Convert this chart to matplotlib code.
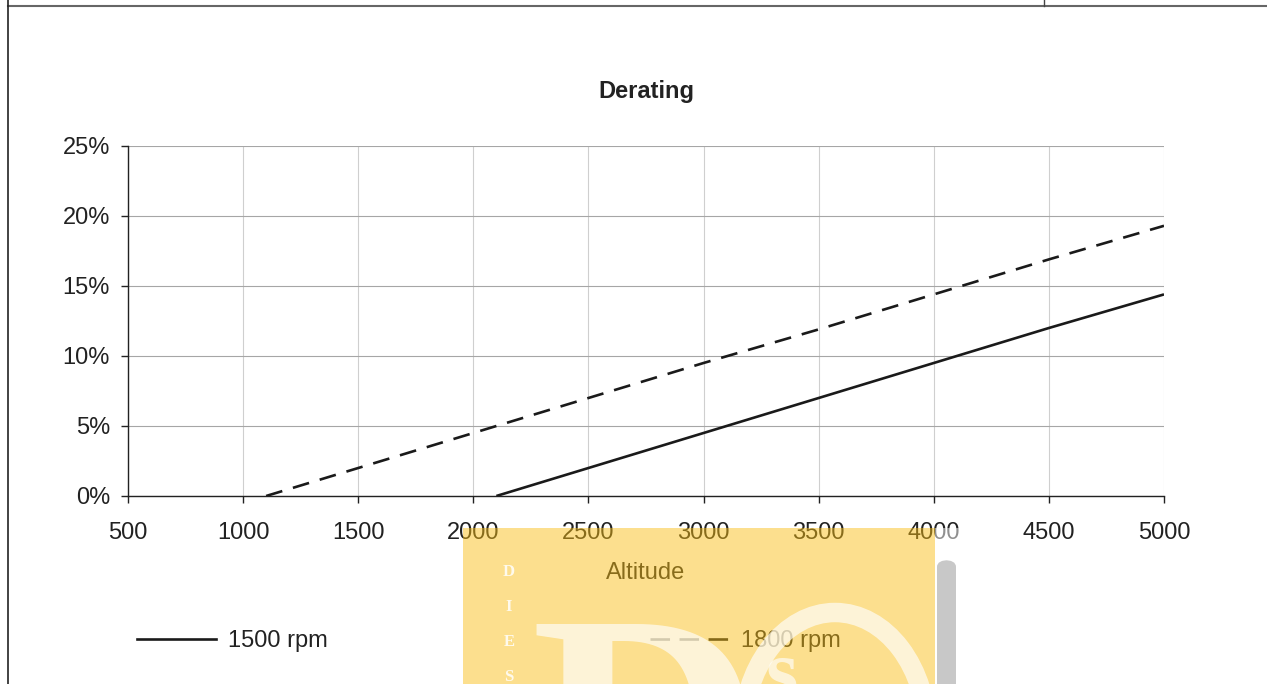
import matplotlib.pyplot as plt
from matplotlib.lines import Line2D
from matplotlib.patches import Rectangle, FancyBboxPatch, Ellipse
from matplotlib.ticker import PercentFormatter

plt.rcParams['font.family'] = ['Liberation Sans', 'DejaVu Sans']

# data
alt_1500 = [2100, 2500, 3000, 3500, 4000, 4500, 5000]
derate_1500 = [0, 2.0, 4.5, 7.0, 9.5, 12.0, 14.4]
alt_1800 = [1100, 1500, 2000, 2500, 3000, 3500, 4000, 4500, 5000]
derate_1800 = [0, 2.0, 4.5, 7.0, 9.5, 11.9, 14.4, 16.9, 19.3]
x_ticks = [500, 1000, 1500, 2000, 2500, 3000, 3500, 4000, 4500, 5000]
y_ticks = [0, 5, 10, 15, 20, 25]

W, H = 1267, 684
FS = 17
fig = plt.figure(figsize=(W / 100, H / 100), dpi=100)


def fx(x):
    return x / W


def fy(y):
    return 1 - y / H


ax = fig.add_axes([fx(128), fy(496), fx(1164) - fx(128), fy(146) - fy(496)])

l1, = ax.plot(alt_1500, derate_1500, color='#1a1a1a', lw=1.9, solid_capstyle='butt')
l2, = ax.plot(alt_1800, derate_1800, color='#1a1a1a', lw=1.9, dashes=(6.4, 4.2))

ax.set_xlim(500, 5000)
ax.set_ylim(0, 25)
ax.set_xticks(x_ticks)
ax.set_yticks(y_ticks)
ax.yaxis.set_major_formatter(PercentFormatter(decimals=0))
ax.grid(axis='y', color='#a6a6a6', lw=0.8)
ax.grid(axis='x', color='#cfcfcf', lw=0.8)
ax.set_axisbelow(True)
for s in ['top', 'right']:
    ax.spines[s].set_visible(False)
for s in ['left', 'bottom']:
    ax.spines[s].set_color('#222222')
    ax.spines[s].set_linewidth(1.0)
ax.tick_params(axis='both', direction='out', length=5, width=1.0, color='#222222',
               labelsize=FS, labelcolor='#222222')
ax.tick_params(axis='x', pad=13.5)
ax.tick_params(axis='y', pad=8)

ax.set_title('Derating', fontsize=FS, fontweight='bold', color='#222222', pad=34.5)
ax.set_xlabel('Altitude', fontsize=FS, color='#222222', labelpad=13.5)

# legend proxies (legend dash pattern is a bit longer than on the plot)
h1 = Line2D([], [], color='#1a1a1a', lw=1.9)
h2 = Line2D([], [], color='#1a1a1a', lw=1.9, dashes=(7.4, 3.6))
fig.legend([h1, h2], ['1500 rpm', '1800 rpm'], loc='center left',
           bbox_to_anchor=(fx(137), fy(641)), ncol=2, frameon=False,
           fontsize=FS, handlelength=3.35, handletextpad=0.52,
           columnspacing=13.62, borderpad=0, borderaxespad=0, labelcolor='#222222')

# page frame lines
fig.add_artist(Line2D([fx(8), 1], [fy(6), fy(6)], color='#666666', lw=1.5))
fig.add_artist(Line2D([fx(8), fx(8)], [0, 1], color='#222222', lw=1.2))
fig.add_artist(Line2D([fx(1044), fx(1044)], [fy(6), 1], color='#444444', lw=1.0))

# watermark overlay
fig.add_artist(FancyBboxPatch((fx(937), -0.1), fx(956) - fx(937), fy(560) + 0.1,
                              boxstyle='round,pad=0,rounding_size=0.01',
                              facecolor='#c8c8c8', edgecolor='none', zorder=10))
fig.add_artist(Rectangle((fx(935), fy(560)), fx(965) - fx(935), fy(528) - fy(560),
                         facecolor='white', alpha=0.5, edgecolor='none', zorder=10))
fig.add_artist(Rectangle((fx(463), 0), fx(935) - fx(463), fy(528),
                         facecolor='#f9be14', alpha=0.48, edgecolor='none', zorder=11))
for i, ch in enumerate('DIES'):
    fig.text(fx(509), fy(572 + 35 * i), ch, family='Liberation Serif', fontweight='bold',
             fontsize=12, color='white', alpha=0.85, ha='center', va='center', zorder=12)
fig.text(fx(530), fy(612), 'D', family='Liberation Serif', fontweight='bold',
         fontsize=230, color='white', alpha=0.65, ha='left', va='top', zorder=12)
fig.add_artist(Ellipse((fx(835), fy(735)), fx(185) - fx(0), fy(0) - fy(245),
                       facecolor='none', edgecolor='white', lw=14, alpha=0.65, zorder=12))
fig.text(fx(765), fy(640), 's', family='Liberation Serif', fontweight='bold',
         fontsize=60, color='white', alpha=0.65, ha='left', va='top', zorder=12)

fig.savefig('out.png', dpi=100)
